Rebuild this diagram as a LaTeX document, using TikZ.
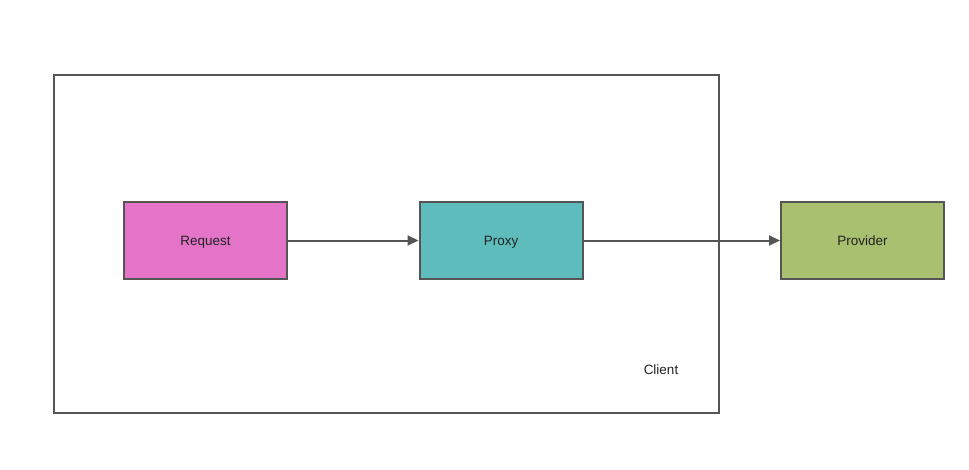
\documentclass[tikz,border=0pt]{standalone}
\usepackage{fontspec}
\setmainfont{Liberation Sans}
\usetikzlibrary{arrows.meta}
\definecolor{edge}{HTML}{555555}
\definecolor{reqfill}{HTML}{E374C8}
\definecolor{proxyfill}{HTML}{5EBCBC}
\definecolor{provfill}{HTML}{A8C070}
\definecolor{txt}{HTML}{222222}
\begin{document}
\begin{tikzpicture}[x=1pt,y=-1pt,
  lbl/.style={text=txt, font=\fontsize{13.5}{16}\selectfont, text height=9.7pt, text depth=0pt},
  box/.style={lbl, draw=edge, line width=2pt, minimum width=163pt, minimum height=77pt, inner sep=0pt},
  conn/.style={draw=edge, line width=2pt, -{Triangle[length=11pt,width=10pt]}}]
\useasboundingbox (0,0) rectangle (969,469);
\node[draw=edge, line width=2pt, minimum width=665pt, minimum height=338pt, inner sep=0pt] (client) at (386.5,244) {};
\node[lbl] (clientlabel) at (661,370) {Client};
\node[box, fill=reqfill] (req) at (205.5,240.5) {Request};
\node[box, fill=proxyfill] (proxy) at (501,240.5) {Proxy};
\node[box, fill=provfill] (prov) at (862.5,240.5) {Provider};
\draw[conn, line width=2pt] (req) -- (proxy);
\draw[conn, line width=2pt] (proxy) -- (prov);
\end{tikzpicture}
\end{document}
